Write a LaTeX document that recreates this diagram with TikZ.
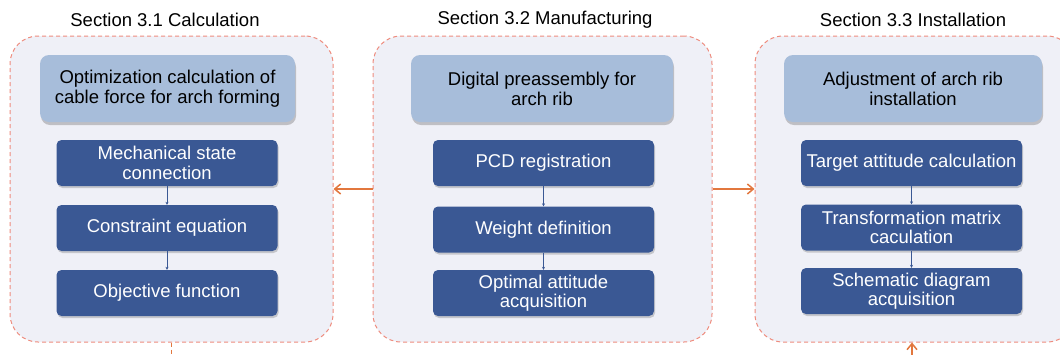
\documentclass[tikz,border=0pt]{standalone}
\usepackage{fontspec}
\setmainfont{Liberation Sans}
\usetikzlibrary{arrows.meta, positioning, shadows}
\definecolor{panelfill}{HTML}{EFF0F7}
\definecolor{paneledge}{HTML}{EE8C7E}
\definecolor{headfill}{HTML}{A7BDDA}
\definecolor{stepfill}{HTML}{3A5894}
\definecolor{flowclr}{HTML}{E2773E}
\tikzset{
  ttl/.style    ={font=\fontsize{18.5}{20}\selectfont, text=black},
  panel/.style  ={draw=paneledge, dash pattern=on 4pt off 3pt,
                  line width=1pt, fill=panelfill,
                  rounded corners=28pt, minimum height=306pt},
  headbox/.style={fill=headfill, rounded corners=9pt, minimum height=67pt,
                  align=center, font=\fontsize{18.5}{20}\selectfont,
                  drop shadow={shadow xshift=1pt, shadow yshift=-3pt,
                  opacity=0.35, fill=black!60}},
  stepbox/.style={fill=stepfill, rounded corners=5pt, minimum width=221pt,
                  minimum height=46pt, align=center, text=white,
                  font=\fontsize{18.5}{19.5}\selectfont,
                  drop shadow={shadow xshift=1pt, shadow yshift=-2pt,
                  opacity=0.3, fill=black!60}},
  link/.style   ={-{Stealth[length=3pt, width=3pt]}, line width=0.8pt,
                  stepfill},
  flow/.style   ={-{Straight Barb[length=6pt, width=10pt]}, line width=1.5pt,
                  flowclr},
  flowD/.style  ={line width=1.5pt, flowclr, dash pattern=on 4pt off 3pt},
}
\begin{document}
\begin{tikzpicture}[x=1pt, y=-1pt, inner sep=2pt]
  \useasboundingbox (0,0) rectangle (1060,354);
  % panels
  \node[panel, minimum width=323pt] (calc) at (171.5,189) {};
  \node[panel, minimum width=339pt] (manu) at (542.5,189) {};
  \node[panel, minimum width=320pt] (inst) at (915,189)   {};
  \node[ttl] (tcalc) at (165,20) {Section 3.1 Calculation};
  \node[ttl] (tmanu) at (545,20) {Section 3.2 Manufacturing};
  \node[ttl] (tinst) at (913,20) {Section 3.3 Installation};
  % Section 3.1
  \node[headbox, minimum width=255pt] (hcalc) at (167.5,88.5)
    {Optimization calculation of\\cable force for arch forming};
  \node[stepbox] (c1) at (167,163) {Mechanical state\\connection};
  \node[stepbox] (c2) at (167,228) {Constraint equation};
  \node[stepbox] (c3) at (167,293) {Objective function};
  % Section 3.2
  \node[headbox, minimum width=262pt] (hmanu) at (542,88.5)
    {Digital preassembly for\\arch rib};
  \node[stepbox] (m1) at (543.5,163)   {PCD registration};
  \node[stepbox] (m2) at (543.5,229.5) {Weight definition};
  \node[stepbox] (m3) at (543.5,293)   {Optimal attitude\\acquisition};
  % Section 3.3
  \node[headbox, minimum width=258pt] (hinst) at (913,88.5)
    {Adjustment of arch rib\\installation};
  \node[stepbox] (i1) at (911.5,163)   {Target attitude calculation};
  \node[stepbox] (i2) at (911.5,227.5) {Transformation matrix\\caculation};
  \node[stepbox] (i3) at (911.5,291)   {Schematic diagram\\acquisition};
  % links inside panels
  \foreach \a/\b in {c1/c2, c2/c3, m1/m2, m2/m3, i1/i2, i2/i3}
    \draw[link] (\a) -- (\b);
  % links between panels
  \draw[flow] (manu.west) -- (calc.east);
  \draw[flow] (manu.east) -- (inst.west);
  \coordinate (calcout) at (calc.south |- 0,356);
  \coordinate (instin)  at (912,356);
  \draw[flowD] (calc.south) -- (calcout);
  \draw[flow] (instin) -- (instin |- inst.south);
\end{tikzpicture}
\end{document}
